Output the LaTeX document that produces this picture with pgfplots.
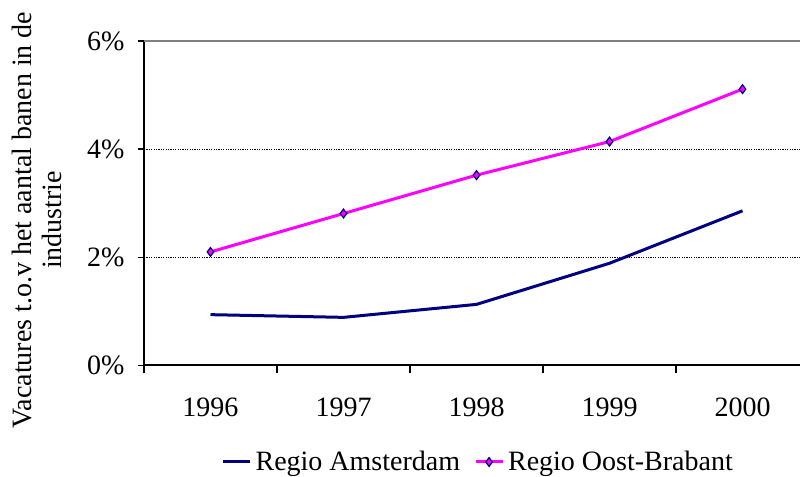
\documentclass[border=0pt]{standalone}
\usepackage{fontspec}
\setmainfont{Liberation Serif}
\usepackage{pgfplots}
\pgfplotsset{compat=1.18}
\definecolor{navy}{RGB}{0,0,128}
\definecolor{mag}{RGB}{255,0,255}
\begin{document}
\begin{tikzpicture}
\begin{axis}[
  at={(0,0)}, anchor=south west,
  scale only axis, width=328pt, height=162.25pt,
  xmin=-0.5, xmax=4.432, ymin=0, ymax=6,
  axis x line*=bottom, axis y line*=left,
  axis line style={black, line width=1pt, -},
  xtick={0,1,2,3,4}, xticklabels={1996,1997,1998,1999,2000},
  major x tick style={draw=none},
  minor xtick={-0.5,0.5,1.5,2.5,3.5},
  minor tick length=4pt,
  ytick={0,2,4,6},
  yticklabel={\pgfmathprintnumber{\tick}\%},
  /pgf/number format/assume math mode=true,
  tick align=outside, major tick length=3pt,
  tick style={black, line width=0.75pt},
  every tick label/.append style={font=\fontsize{14}{16}\selectfont},
  yticklabel style={anchor=east, xshift=-3.3pt},
  xticklabel style={anchor=center, yshift=-18pt},
  ymajorgrids, grid style={black, dash pattern=on 0.6pt off 0.6pt, line width=0.6pt},
  legend style={at={(axis description cs:0.511,0)}, anchor=center, yshift=-48.25pt,
    draw=none, fill=none, legend columns=2, font=\fontsize{14}{16}\selectfont,
    /tikz/every even column/.append style={column sep=5pt}},
  legend image code/.code={\draw[#1, mark repeat=2, mark phase=2] plot coordinates {(0pt,0pt) (6.75pt,0pt) (13.5pt,0pt)};},
]
\addplot[navy, line width=1.5pt, no markers] coordinates {(0,0.94) (1,0.89) (2,1.13) (3,1.89) (4,2.86)};
\addlegendentry{Regio Amsterdam}
\addplot[mag, line width=1.5pt, mark=diamond*, mark size=2.2pt, mark options={fill=mag, draw=navy, line width=0.6pt, solid}] coordinates {(0,2.10) (1,2.81) (2,3.52) (3,4.14) (4,5.11)};
\addlegendentry{Regio Oost-Brabant}
\draw[gray, line width=1pt] (rel axis cs:0,1) -- (rel axis cs:1,1);
\end{axis}
\node[rotate=90, align=center, font=\fontsize{14}{15}\selectfont] at (-53.5pt,72.75pt) {Vacatures t.o.v het aantal banen in de\\industrie};
\pgfresetboundingbox
\path[use as bounding box] (-72pt,-55.75pt) rectangle (328pt,182.75pt);
\end{tikzpicture}
\end{document}
